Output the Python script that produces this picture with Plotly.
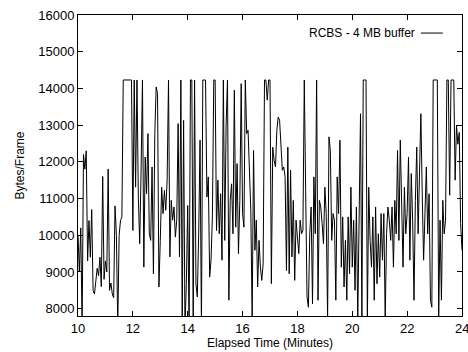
import numpy as np
import plotly.graph_objects as go

# Elapsed time grid (minutes), one sample every 0.05 min from 10 to 24
t_start = 10.0
t_step = 0.05

# Bytes/Frame readings, one row per minute (20 samples each)
bytes_10 = [10000, 9000, 10200, 7500, 12200, 11800, 12300, 9300, 10400, 9400,
            10700, 8500, 8400, 8800, 9100, 8900, 9400, 8600, 11600, 8800]
bytes_11 = [9300, 9000, 11800, 8500, 8700, 8400, 8300, 10800, 10000, 7500,
            10000, 10400, 10500, 14230, 14230, 14230, 14230, 14230, 14230, 14230]
bytes_12 = [10130, 14230, 11310, 14230, 11040, 9770, 11770, 14230, 9130, 12130,
            11130, 12770, 10040, 9860, 11860, 8950, 12770, 14040, 13860, 8590]
bytes_13 = [9860, 11310, 10590, 11220, 10680, 11500, 14230, 9410, 10950, 10410,
            10770, 9950, 10410, 13040, 9410, 14230, 7500, 13130, 7500, 8680]
bytes_14 = [10810, 7500, 14230, 14230, 7500, 14230, 8680, 8320, 10040, 12590,
            7500, 14230, 14230, 14230, 11040, 11590, 8860, 9320, 10500, 14230]
bytes_15 = [14230, 10130, 11500, 10040, 11130, 9320, 14230, 9860, 13000, 14230,
            8230, 10950, 11400, 10040, 13950, 10220, 11950, 9500, 10950, 14130]
bytes_16 = [10590, 10220, 14230, 12770, 12860, 11800, 10680, 7700, 12310, 9590,
            10410, 8590, 9860, 9130, 8770, 9220, 14230, 14230, 13680, 14230]
bytes_17 = [14230, 8680, 12400, 12040, 11860, 12860, 13220, 13130, 12490, 11770,
            11860, 11590, 9040, 12400, 8950, 11770, 9410, 10950, 8770, 10410]
bytes_18 = [9950, 9500, 10410, 10040, 10130, 14230, 11220, 8320, 8040, 10040,
            10770, 8130, 11590, 10040, 14230, 8230, 10950, 10770, 10320, 9770]
bytes_19 = [11310, 10590, 7700, 12680, 12310, 9860, 10590, 10410, 8230, 11590,
            10590, 12590, 9130, 10500, 8590, 9860, 8230, 10500, 8950, 11310]
bytes_20 = [9130, 10410, 8500, 10770, 7700, 10040, 13310, 7700, 14230, 14230,
            14230, 7700, 11310, 9860, 9130, 10500, 8230, 10770, 8680, 10040]
bytes_21 = [8860, 10590, 9320, 10590, 7700, 10040, 10770, 10410, 9860, 10770,
            9130, 10950, 10040, 12310, 9860, 12590, 10220, 9130, 11310, 10040]
bytes_22 = [10590, 12130, 9320, 11680, 10410, 8230, 10950, 12400, 10040, 12130,
            13310, 11130, 9320, 10590, 11860, 10040, 11130, 8230, 8040, 14230]
bytes_23 = [14230, 14230, 14230, 7700, 10410, 8230, 10950, 10040, 10410, 14230,
            14230, 11090, 14230, 14230, 14230, 11500, 13000, 12480, 12800, 10320]
bytes_24 = [9590]

values = (bytes_10 + bytes_11 + bytes_12 + bytes_13 + bytes_14 + bytes_15 +
          bytes_16 + bytes_17 + bytes_18 + bytes_19 + bytes_20 + bytes_21 +
          bytes_22 + bytes_23 + bytes_24)
times = np.round(t_start + t_step * np.arange(len(values)), 3)

x_ticks = [10, 12, 14, 16, 18, 20, 22, 24]
y_ticks = [8000, 9000, 10000, 11000, 12000, 13000, 14000, 15000, 16000]
series_name = "RCBS - 4 MB buffer"

FONT = "Liberation Sans, Arial, Helvetica, sans-serif"

fig = go.Figure()
fig.add_trace(go.Scatter(x=times, y=values, mode="lines", name=series_name,
                         line=dict(color="black", width=1), showlegend=False))

axis_common = dict(
    showgrid=False, zeroline=False, showline=True, linecolor="black", linewidth=1,
    mirror="ticks", ticks="inside", ticklen=5, tickcolor="black", tickwidth=1,
    tickfont=dict(family=FONT, size=13, color="black"),
)
fig.update_xaxes(range=[10, 24], tickvals=x_ticks, ticktext=[str(v) for v in x_ticks],
                 title=dict(text="Elapsed Time (Minutes)", standoff=2,
                            font=dict(family=FONT, size=12, color="black")),
                 **axis_common)
fig.update_yaxes(range=[7800, 16000], tickvals=y_ticks, ticktext=[str(v) for v in y_ticks],
                 title=dict(text="Bytes/Frame", standoff=11,
                            font=dict(family=FONT, size=12, color="black")),
                 **axis_common)

# last x tick label sits at the right edge and is cut off, as in the original
fig.add_annotation(xref="x", yref="paper", x=x_ticks[-1], y=0, yshift=-3,
                   xanchor="center", yanchor="top", text=str(x_ticks[-1]),
                   showarrow=False, font=dict(family=FONT, size=13, color="black"))

# gnuplot-style key: text followed by line sample, top right
fig.add_annotation(xref="paper", yref="paper", x=0.882, y=0.94, xanchor="right",
                   yanchor="middle", text=series_name, showarrow=False,
                   font=dict(family=FONT, size=12, color="black"))
fig.add_shape(type="line", xref="paper", yref="paper", x0=0.893, x1=0.95,
              y0=0.94, y1=0.94, line=dict(color="black", width=1))

fig.update_layout(
    width=468, height=352,
    margin=dict(l=78, r=6, t=15, b=36),
    paper_bgcolor="white", plot_bgcolor="white",
    font=dict(family=FONT, color="black"),
)
fig.write_html("out.html")
